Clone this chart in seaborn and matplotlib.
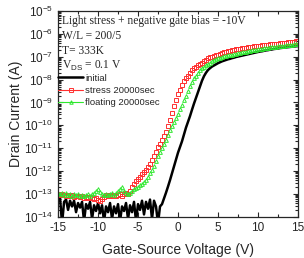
import numpy as np
import matplotlib
matplotlib.use("Agg")
import matplotlib.pyplot as plt
import seaborn as sns
from matplotlib.lines import Line2D
from matplotlib.ticker import LogLocator, MultipleLocator, NullFormatter

# Gate voltage sweep grid (V), 0.25 V steps from -15 V to 15 V
gate_voltage = np.arange(-15.0, 15.001, 0.25)

# log10 of drain current (A)
log_initial = [
    -13.10, -13.20, -14.30, -13.35, -13.25, -13.70, -13.30, -13.55, -13.30, -13.80,
    -13.40, -13.60, -13.35, -14.20, -13.45, -13.65, -13.35, -14.10, -13.50, -13.75,
    -13.40, -13.85, -13.50, -14.20, -13.55, -13.80, -13.40, -14.10, -13.55, -13.85,
    -13.45, -14.20, -13.55, -13.75, -13.40, -14.10, -13.50, -13.80, -13.35, -14.20,
    -13.45, -13.70, -13.30, -13.90, -13.35, -13.65, -13.25, -14.10, -13.30, -13.55,
    -14.30, -13.55, -13.45, -13.20, -12.95, -12.68, -12.40, -12.10, -11.80, -11.50,
    -11.20, -10.95, -10.70, -10.40, -10.10, -9.85, -9.60, -9.32, -9.05, -8.80,
    -8.55, -8.30, -8.05, -7.85, -7.70, -7.58, -7.50, -7.43, -7.38, -7.33,
    -7.28, -7.24, -7.20, -7.17, -7.14, -7.11, -7.09, -7.06, -7.04, -7.01,
    -6.99, -6.97, -6.95, -6.93, -6.91, -6.89, -6.87, -6.85, -6.83, -6.81,
    -6.79, -6.77, -6.76, -6.74, -6.72, -6.71, -6.69, -6.68, -6.66, -6.65,
    -6.64, -6.62, -6.61, -6.60, -6.59, -6.58, -6.57, -6.56, -6.55, -6.54,
    -6.53,
]

log_stress = [
    -13.02, -13.05, -13.00, -13.06, -13.08, -13.04, -13.10, -13.06, -13.12, -13.08,
    -13.10, -13.14, -13.10, -13.16, -13.12, -13.18, -13.14, -13.20, -13.22, -13.18,
    -13.26, -13.30, -13.22, -13.12, -13.06, -13.10, -13.05, -13.08, -13.04, -13.10,
    -13.06, -13.00, -13.08, -13.02, -12.98, -13.02, -12.88, -12.72, -12.55, -12.45,
    -12.36, -12.25, -12.15, -12.05, -11.95, -11.83, -11.70, -11.52, -11.35, -11.15,
    -10.95, -10.80, -10.65, -10.48, -10.30, -10.03, -9.75, -9.45, -9.15, -8.88,
    -8.65, -8.44, -8.25, -8.08, -7.95, -7.82, -7.70, -7.60, -7.50, -7.43,
    -7.37, -7.31, -7.25, -7.18, -7.12, -7.07, -7.02, -6.99, -6.96, -6.93,
    -6.90, -6.87, -6.84, -6.81, -6.78, -6.76, -6.74, -6.72, -6.70, -6.68,
    -6.66, -6.64, -6.62, -6.61, -6.60, -6.58, -6.57, -6.56, -6.54, -6.53,
    -6.52, -6.51, -6.50, -6.49, -6.48, -6.47, -6.46, -6.45, -6.44, -6.43,
    -6.42, -6.41, -6.40, -6.39, -6.38, -6.37, -6.36, -6.35, -6.34, -6.33,
    -6.32,
]

log_floating = [
    -12.98, -13.02, -12.96, -13.04, -12.98, -13.06, -13.00, -13.08, -13.02, -13.06,
    -13.00, -13.08, -13.04, -13.10, -13.06, -13.02, -13.08, -13.00, -12.94, -12.86,
    -12.80, -12.92, -13.02, -13.06, -13.00, -13.06, -13.02, -12.98, -13.04, -12.96,
    -12.86, -12.78, -12.72, -12.88, -12.98, -13.00, -12.95, -12.88, -12.80, -12.76,
    -12.70, -12.63, -12.55, -12.47, -12.38, -12.25, -12.10, -11.95, -11.80, -11.57,
    -11.35, -11.18, -11.00, -10.83, -10.65, -10.42, -10.20, -10.02, -9.85, -9.68,
    -9.50, -9.30, -9.10, -8.90, -8.70, -8.50, -8.30, -8.12, -7.95, -7.82,
    -7.70, -7.60, -7.50, -7.44, -7.38, -7.31, -7.25, -7.20, -7.15, -7.11,
    -7.07, -7.04, -7.01, -6.98, -6.96, -6.94, -6.92, -6.90, -6.88, -6.86,
    -6.84, -6.82, -6.80, -6.78, -6.77, -6.75, -6.74, -6.72, -6.71, -6.69,
    -6.68, -6.66, -6.65, -6.63, -6.62, -6.61, -6.59, -6.58, -6.57, -6.56,
    -6.54, -6.53, -6.52, -6.51, -6.50, -6.49, -6.48, -6.47, -6.46, -6.45,
    -6.44,
]

series_labels = ["initial", "stress 20000sec", "floating 20000sec"]
annotation_lines = [
    "Light stress + negative gate bias = -10V",
    "W/L = 200/5",
    "T= 333K",
    r"V$_{\mathsf{DS}}$ = 0.1 V",
]
x_ticks = [-15, -10, -5, 0, 5, 10, 15]

i_initial = 10.0 ** np.array(log_initial)
i_stress = 10.0 ** np.array(log_stress)
i_floating = 10.0 ** np.array(log_floating)

sns.set_style("ticks")
plt.rcParams["font.family"] = ["Liberation Sans", "DejaVu Sans"]
plt.rcParams["mathtext.fontset"] = "custom"
plt.rcParams["mathtext.rm"] = "Liberation Sans"
plt.rcParams["mathtext.sf"] = "Liberation Sans"
plt.rcParams["mathtext.it"] = "Liberation Sans:italic"

fig = plt.figure(figsize=(3.04, 2.58), dpi=100)
ax = fig.add_axes([0.191, 0.160, 0.789, 0.797])

RED = "#ff3030"
GREEN = "#2ee82e"

sns.lineplot(x=gate_voltage, y=i_initial, ax=ax, color="black", linewidth=1.8,
             estimator=None, sort=False)
sns.lineplot(x=gate_voltage, y=i_stress, ax=ax, color=RED, linestyle="none",
             marker="s", markersize=2.4, markerfacecolor="none",
             markeredgecolor=RED, markeredgewidth=0.7, estimator=None, sort=False)
sns.lineplot(x=gate_voltage, y=i_floating, ax=ax, color=GREEN, linestyle="none",
             marker="^", markersize=2.7, markerfacecolor="none",
             markeredgecolor=GREEN, markeredgewidth=0.7, estimator=None, sort=False)

ax.set_yscale("log")
ax.set_xlim(-15, 15)
ax.set_ylim(1e-14, 1e-5)
ax.set_xticks(x_ticks)
ax.set_xticklabels([str(t) for t in x_ticks], fontsize=8.5)
ax.xaxis.set_minor_locator(MultipleLocator(2.5))
ax.yaxis.set_major_locator(LogLocator(base=10, numticks=20))
ax.yaxis.set_minor_locator(LogLocator(base=10, subs=np.arange(2, 10), numticks=20))
ax.yaxis.set_minor_formatter(NullFormatter())
ax.tick_params(axis="y", labelsize=8.5)
ax.tick_params(which="both", direction="in", top=True, right=True, width=0.8)
ax.tick_params(which="major", length=3.5)
ax.tick_params(which="minor", length=2)
for s in ax.spines.values():
    s.set_linewidth(0.9)

ax.set_xlabel("Gate-Source Voltage (V)", fontsize=10, labelpad=7)
ax.set_ylabel("Drain Current (A)", fontsize=10, labelpad=1)

y0 = 0.954
for k, line in enumerate(annotation_lines):
    ax.text(0.015, y0 - k * 0.0735, line, transform=ax.transAxes, fontsize=8.3,
            family=["Liberation Serif", "DejaVu Serif"], va="center", ha="left")

handles = [
    Line2D([0, 1], [0, 0], color="black", linewidth=1.8),
    Line2D([0, 0.5, 1], [0, 0, 0], color=RED, linewidth=0.8, marker="s",
           markersize=2.2, markerfacecolor="none", markeredgewidth=0.7,
           markevery=[1]),
    Line2D([0, 0.5, 1], [0, 0, 0], color=GREEN, linewidth=0.8, marker="^",
           markersize=2.5, markerfacecolor="none", markeredgewidth=0.7,
           markevery=[1]),
]
leg = ax.legend(handles, series_labels, loc="upper left",
                bbox_to_anchor=(-0.005, 0.70), frameon=False, fontsize=6.8,
                handlelength=2.7, handletextpad=0.2, labelspacing=0.35,
                borderaxespad=0.0, borderpad=0.1)

fig.savefig("out.png", dpi=100)
